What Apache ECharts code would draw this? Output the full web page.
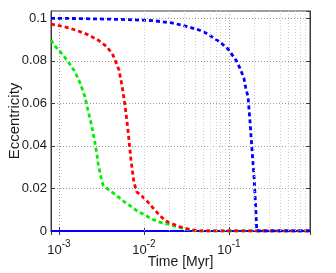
<!DOCTYPE html>
<html><head><meta charset="utf-8">
<script src="https://cdn.jsdelivr.net/npm/echarts@6/dist/echarts.min.js"></script>
<style>html,body{margin:0;padding:0;background:#fff}#c{width:336px;height:273px}</style>
</head><body><div id="c"></div>
<script>
// Time [Myr] and eccentricity for each run
var blueTime = [8.05e-4, 1.5e-3, 3e-3, 6e-3, 0.01276, 0.0213, 0.0272, 0.0357, 0.0444, 0.0536, 0.0648, 0.0784, 0.0973, 0.1208, 0.1346, 0.150, 0.158, 0.168, 0.1766, 0.1862, 0.1986, 0.2053, 0.212, 0.215, 0.9];
var blueEcc  = [0.1000, 0.0999, 0.0997, 0.0994, 0.0989, 0.0978, 0.0969, 0.0956, 0.0945, 0.0931, 0.0910, 0.0888, 0.0856, 0.0804, 0.0766, 0.0719, 0.0672, 0.0630, 0.052, 0.039, 0.024, 0.013, 0.0014, 0, 0];
var redTime = [8.05e-4, 9.7e-4, 1.35e-3, 1.77e-3, 2.13e-3, 2.87e-3, 3.67e-3, 4.32e-3, 5.08e-3, 5.5e-3, 5.98e-3, 6.48e-3, 7.03e-3, 7.63e-3, 8.27e-3, 9.73e-3, 0.01114, 0.01312, 0.01543, 0.01815, 0.02194, 0.02653, 0.0348, 0.0456, 0.9];
var redEcc  = [0.0973, 0.0967, 0.0953, 0.0937, 0.0925, 0.0898, 0.0866, 0.0827, 0.0757, 0.0686, 0.0592, 0.0475, 0.0334, 0.0226, 0.0183, 0.0160, 0.0136, 0.0103, 0.0072, 0.0047, 0.0033, 0.0020, 0.0007, 0, 0];
var greenTime = [8.05e-4, 8.97e-4, 1.03e-3, 1.28e-3, 1.54e-3, 1.77e-3, 2.02e-3, 2.19e-3, 2.44e-3, 2.65e-3, 2.8e-3, 2.88e-3, 3.04e-3, 3.2e-3, 3.3e-3, 3.87e-3, 4.69e-3, 5.66e-3, 6.84e-3, 8.27e-3, 0.01028, 0.01242, 0.01543, 0.02023, 0.0266, 0.0367, 0.045, 0.9];
var greenEcc  = [0.0898, 0.0870, 0.0843, 0.0796, 0.0749, 0.0696, 0.0631, 0.0569, 0.0490, 0.0414, 0.0357, 0.0320, 0.0273, 0.0232, 0.0216, 0.0193, 0.0169, 0.0142, 0.0119, 0.0095, 0.0075, 0.0056, 0.0041, 0.0030, 0.0016, 0.0002, 0, 0];
var baseTime = [8.05e-4, 0.9];
var baseEcc = [0, 0];
var xMin = 8.05e-4, xMax = 0.9, yMin = 0, yMax = 0.10343;
var yTicks = [0, 0.02, 0.04, 0.06, 0.08, 0.1];

function pairs(t, e){ return t.map(function(v,i){ return [v, e[i]]; }); }
// minor log grid lines (2..9 x decade) inside range
var minor = [];
for (var d = -4; d <= 0; d++) for (var m = 2; m <= 9; m++) {
  var v = m * Math.pow(10, d);
  if (v > xMin && v < xMax) minor.push({xAxis: v});
}
var txt = '#1a1a1a', frame = '#3a3a3a', font = 'Liberation Sans';
var chart = echarts.init(document.getElementById('c'), null, {renderer: 'canvas'});
chart.setOption({
  animation: false,
  backgroundColor: '#fff',
  textStyle: {fontFamily: font},
  grid: {left: 51, right: 26, top: 11, bottom: 42, show: true, borderColor: frame, borderWidth: 1, containLabel: false, outerBoundsMode: 'none'},
  xAxis: [{
    type: 'log', logBase: 10, min: xMin, max: xMax, position: 'bottom',
    name: 'Time [Myr]', nameLocation: 'middle', nameGap: 24, nameMoveOverlap: false,
    nameTextStyle: {fontFamily: font, fontSize: 14, color: txt},
    axisLine: {show: true, lineStyle: {color: frame, width: 1}},
    axisTick: {show: true, inside: true, length: 4, lineStyle: {color: frame}},
    splitLine: {show: true, lineStyle: {color: '#9a9a9a', type: [1, 2], width: 1}},
    axisLabel: {
      margin: 8,
      formatter: function (v) {
        var e = Math.log10(v), r = Math.round(e);
        if (Math.abs(e - r) > 1e-6) return '';
        return '{b|10}{s|' + r + '}';
      },
      rich: {
        b: {fontFamily: font, fontSize: 13, color: txt, lineHeight: 18, verticalAlign: 'bottom'},
        s: {fontFamily: font, fontSize: 10, color: txt, lineHeight: 12, verticalAlign: 'top'}
      }
    }
  }, {
    type: 'log', logBase: 10, min: xMin, max: xMax, position: 'top',
    axisLine: {show: true, lineStyle: {color: frame, width: 1}},
    axisTick: {show: true, inside: true, length: 4, lineStyle: {color: frame}},
    axisLabel: {show: false}, splitLine: {show: false}
  }],
  yAxis: [{
    type: 'value', min: yMin, max: yMax, interval: 0.02, position: 'left',
    name: 'Eccentricity', nameLocation: 'middle', nameGap: 29, nameRotate: 90, nameMoveOverlap: false,
    nameTextStyle: {fontFamily: font, fontSize: 15, color: txt},
    axisLine: {show: true, lineStyle: {color: frame, width: 1}},
    axisTick: {show: true, inside: true, length: 4, lineStyle: {color: frame}},
    splitLine: {show: true, lineStyle: {color: '#9a9a9a', type: [1, 2], width: 1}},
    axisLabel: {
      margin: 4, fontFamily: font, fontSize: 13, color: txt, showMaxLabel: false,
      formatter: function (v) {
        for (var i = 0; i < yTicks.length; i++) if (Math.abs(v - yTicks[i]) < 1e-9) return String(yTicks[i]);
        return '';
      }
    }
  }, {
    type: 'value', min: yMin, max: yMax, interval: 0.02, position: 'right',
    axisLine: {show: true, lineStyle: {color: frame, width: 1}},
    axisTick: {show: true, inside: true, length: 4, lineStyle: {color: frame}},
    axisLabel: {show: false}, splitLine: {show: false}
  }],
  series: [{
    type: 'line', data: [], silent: true, z: 1,
    markLine: {silent: true, symbol: ['none', 'none'], label: {show: false},
      lineStyle: {color: '#cfcfcf', type: [1, 2], width: 1}, data: minor, animation: false}
  }, {
    type: 'line', data: pairs(baseTime, baseEcc), showSymbol: false, symbol: 'none', z: 2,
    lineStyle: {color: '#0000ff', width: 2.2, type: 'solid'}
  }, {
    type: 'line', data: pairs(greenTime, greenEcc), showSymbol: false, symbol: 'none', z: 3,
    lineStyle: {color: '#00ee00', width: 2.8, type: [4, 3]}
  }, {
    type: 'line', data: pairs(redTime, redEcc), showSymbol: false, symbol: 'none', z: 3,
    lineStyle: {color: '#ff0000', width: 2.8, type: [4, 3]}
  }, {
    type: 'line', data: pairs(blueTime, blueEcc), showSymbol: false, symbol: 'none', z: 3,
    lineStyle: {color: '#0000ff', width: 2.8, type: [4, 3]}
  }]
});
</script></body></html>
